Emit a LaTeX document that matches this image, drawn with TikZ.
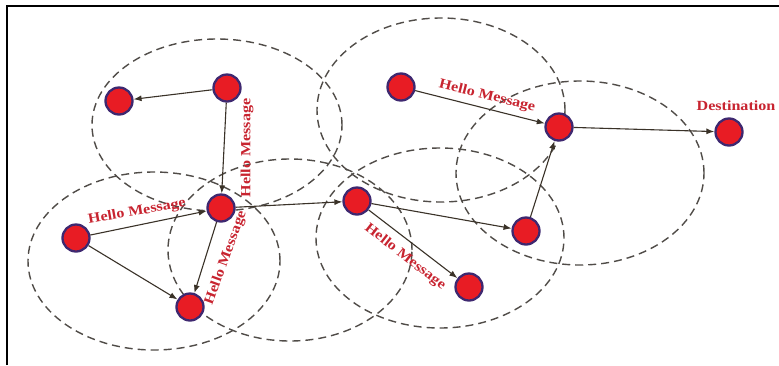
\documentclass[tikz,border=0pt]{standalone}
\usepackage{fontspec}
\setmainfont{Liberation Serif}
\usetikzlibrary{arrows.meta}
\definecolor{nodefill}{RGB}{232,28,36}
\definecolor{nodering}{RGB}{62,40,112}
\definecolor{lbl}{RGB}{200,36,48}
\definecolor{rng}{RGB}{80,76,72}
\definecolor{lnk}{RGB}{58,50,40}
\tikzset{
  mote/.style={circle, minimum size=27pt, inner sep=0pt, fill=nodefill, draw=nodering, line width=2.3pt},
  zone/.style={draw=rng, line width=1.4pt, dash pattern=on 8pt off 5pt},
  link/.style={draw=lnk, line width=1.1pt, -{Latex[length=8pt,width=6pt]}},
  msg/.style={text=lbl, font=\bfseries\fontsize{14}{14}\selectfont, inner sep=0pt},
}
\newcommand{\hm}{\scalebox{1.15}[1]{Hello Message}}
\begin{document}
\begin{tikzpicture}[x=1pt,y=-1pt]
\useasboundingbox (0,0) rectangle (779,365);
\fill[white] (0,0) rectangle (779,365);
% frame
\draw[black, line width=2.6pt] (7,365) -- (7,6) -- (779,6);
% ranges
\draw[zone] (217,125) ellipse [x radius=125pt, y radius=86pt];
\draw[zone] (441,110) ellipse [x radius=124pt, y radius=92pt];
\draw[zone] (580,173) ellipse [x radius=124pt, y radius=92pt];
\draw[zone] (440,238) ellipse [x radius=124pt, y radius=90pt];
\draw[zone] (154,261) ellipse [x radius=126pt, y radius=89pt];
\draw[zone] (290,250) ellipse [x radius=122pt, y radius=91pt];
% nodes
\node[mote] (A) at (119,101) {};
\node[mote] (B) at (227,88) {};
\node[mote] (C) at (221,208) {};
\node[mote] (D) at (76,238) {};
\node[mote] (E) at (190,307) {};
\node[mote] (F) at (357,201) {};
\node[mote] (G) at (401,87) {};
\node[mote] (H) at (559,127) {};
\node[mote] (I) at (729,132) {};
\node[mote] (J) at (526,231) {};
\node[mote] (K) at (469,287) {};
% links
\draw[link] (B) -- (A);
\draw[link] (B) -- (C);
\draw[link] (D) -- (C);
\draw[link] (D) -- (E);
\draw[link] (C) -- (E);
\draw[link] (C) -- (F);
\draw[link] (F) -- (J);
\draw[link] (F) -- (K);
\draw[link] (J) -- (H);
\draw[link] (G) -- (H);
\draw[link] (H) -- (I);
% labels
\node[msg, rotate=90] (l1) at (247,148) {\hm};
\node[msg, rotate=10] (l2) at (137,212) {\hm};
\node[msg, rotate=70] (l3) at (226,258) {\hm};
\node[msg, rotate=-38] (l4) at (405,257) {\hm};
\node[msg, rotate=-14] (l5) at (487,96) {\hm};
\node[msg] (l6) at (736,106) {\scalebox{1.15}[1]{Destination}};
\end{tikzpicture}
\end{document}
